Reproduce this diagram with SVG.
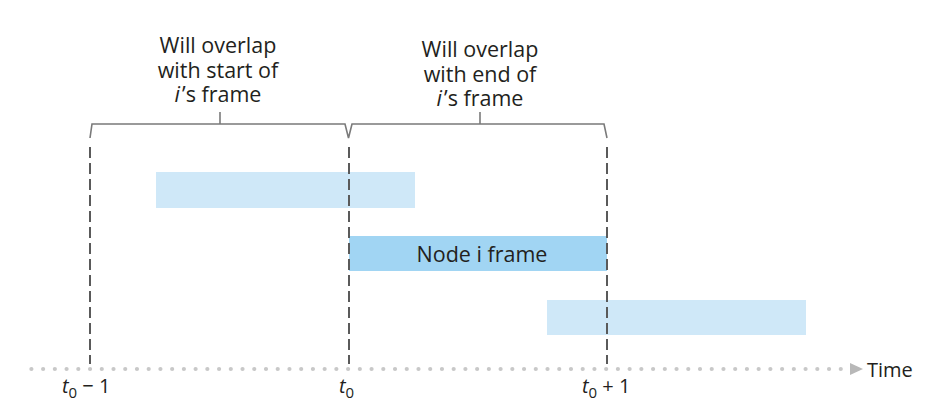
<svg xmlns="http://www.w3.org/2000/svg" width="942" height="420" viewBox="0 0 942 420">
<style>
.t{font-family:"Open Sans","Liberation Sans",sans-serif;font-size:21.5px;fill:#231f20;text-anchor:middle}
.ax{font-family:"Open Sans","Liberation Sans",sans-serif;font-size:20px;fill:#231f20}
.sub{font-size:15px}
.br{fill:none;stroke:#7a7a7a;stroke-width:1.6}
.dash{stroke:#5a5a5a;stroke-width:2;stroke-dasharray:11 5;fill:none}
</style>
<rect width="942" height="420" fill="#fff"/>
<g id="frame-before"><rect x="156" y="172" width="259" height="36" fill="#cfe8f8"/></g>
<g id="frame-node-i"><rect x="349" y="236" width="258" height="35" fill="#a1d5f3"/><text class="t" x="482" y="262">Node i frame</text></g>
<g id="frame-after"><rect x="547" y="300" width="259" height="35" fill="#cfe8f8"/></g>
<g id="connectors">
<line class="dash" x1="90" y1="147" x2="90" y2="364"/>
<line class="dash" x1="349" y1="147" x2="349" y2="364"/>
<line class="dash" x1="607" y1="147" x2="607" y2="364"/>
<path class="br" d="M90 138 L92 124 L345 124 L348.5 138 L352 124 L604 124 L607 138"/>
<line class="br" x1="220" y1="112" x2="220" y2="124"/>
<line class="br" x1="480" y1="112" x2="480" y2="124"/>
<line x1="31.4" y1="369" x2="841" y2="369" stroke="#c8c8c8" stroke-width="4.2" stroke-linecap="round" stroke-dasharray="0 11.73"/>
<polygon points="850,363 863,369 850,375" fill="#b8b8b8"/>
</g>
<g id="label-start">
<text class="t" x="218" y="53">Will overlap</text>
<text class="t" x="218" y="78">with start of</text>
<text class="t" x="218" y="102"><tspan font-style="italic">i</tspan><tspan dx="2">’s frame</tspan></text>
</g>
<g id="label-end">
<text class="t" x="480" y="57">Will overlap</text>
<text class="t" x="480" y="82">with end of</text>
<text class="t" x="480" y="106"><tspan font-style="italic">i</tspan><tspan dx="2">’s frame</tspan></text>
</g>
<g id="axis-labels">
<text class="ax" x="62" y="393"><tspan font-style="italic">t</tspan><tspan class="sub" dy="5">0</tspan><tspan dy="-5"> − 1</tspan></text>
<text class="ax" x="339" y="393"><tspan font-style="italic">t</tspan><tspan class="sub" dy="5">0</tspan></text>
<text class="ax" x="582" y="393"><tspan font-style="italic">t</tspan><tspan class="sub" dy="5">0</tspan><tspan dy="-5"> + 1</tspan></text>
<text class="ax" x="867" y="377">Time</text>
</g>
</svg>
